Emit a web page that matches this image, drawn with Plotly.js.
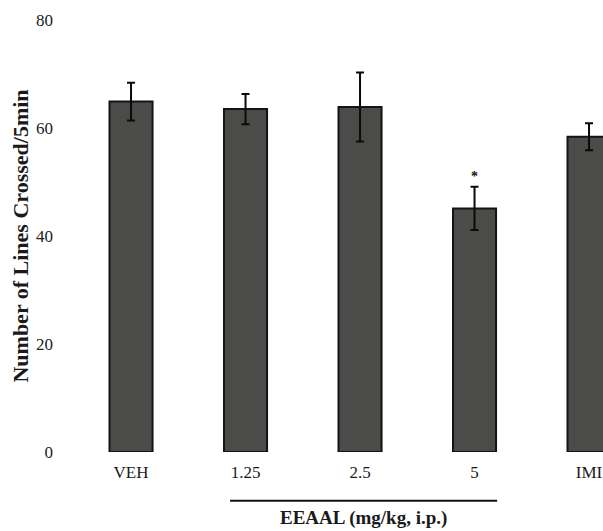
<!DOCTYPE html>
<html>
<head>
<meta charset="utf-8">
<script src="https://cdn.plot.ly/plotly-3.0.1.min.js"></script>
<style>html,body{margin:0;padding:0;background:#fff;}#chart{width:603px;height:531px;}</style>
</head>
<body>
<div id="chart"></div>
<script>
const categories = ['VEH', '1.25', '2.5', '5', 'IMI'];
const meanLines = [64.9, 63.5, 63.9, 45.1, 58.4];
const semLines = [3.5, 2.8, 6.4, 4.0, 2.5];
const significance = ['', '', '', '*', ''];
const yTicks = [0, 20, 40, 60, 80];
const groupLabel = 'EEAAL (mg/kg, i.p.)';

const serif = 'Liberation Serif, Times New Roman, serif';

const trace = {
  type: 'bar',
  x: categories,
  y: meanLines,
  width: 0.376,
  marker: { color: '#4b4b49', line: { color: '#141414', width: 2 } },
  error_y: { type: 'data', array: semLines, visible: true, color: '#0a0a0a', thickness: 2, width: 4 },
  hoverinfo: 'none'
};

const annotations = [];
categories.forEach((c, i) => {
  if (significance[i]) {
    annotations.push({
      x: i, y: meanLines[i] + semLines[i] + 0.2, xref: 'x', yref: 'y',
      text: '<b>' + significance[i] + '</b>', showarrow: false, yanchor: 'bottom',
      font: { family: serif, size: 14, color: '#111' }
    });
  }
});
annotations.push({
  x: 2.03, y: -0.153, xref: 'x', yref: 'paper', text: '<b>' + groupLabel + '</b>',
  showarrow: false, yanchor: 'middle', font: { family: serif, size: 19, color: '#1a1a1a' }
});

const layout = {
  width: 603, height: 531,
  margin: { l: 70, r: 0, t: 20, b: 79 },
  paper_bgcolor: '#fff', plot_bgcolor: '#fff',
  showlegend: false,
  xaxis: {
    type: 'category',
    range: [-0.533, 4.122],
    showline: false, showgrid: false, zeroline: false, ticks: '',
    ticklabelstandoff: 8,
    tickfont: { family: serif, size: 17, color: '#1a1a1a' }
  },
  yaxis: {
    range: [0, 80],
    tickvals: yTicks,
    showline: false, showgrid: false, zeroline: false, ticks: '',
    ticklabelstandoff: 16,
    tickfont: { family: serif, size: 17, color: '#222' },
    title: { text: '<b>Number of Lines Crossed/5min</b>', font: { family: serif, size: 22, color: '#1a1a1a' }, standoff: 1 }
  },
  shapes: [{
    type: 'line', xref: 'x', yref: 'paper',
    x0: 0.865, x1: 3.197, y0: -0.113, y1: -0.113,
    line: { color: '#111', width: 2 }
  }],
  annotations: annotations
};

Plotly.newPlot('chart', [trace], layout, { displayModeBar: false, staticPlot: true });
</script>
</body>
</html>
